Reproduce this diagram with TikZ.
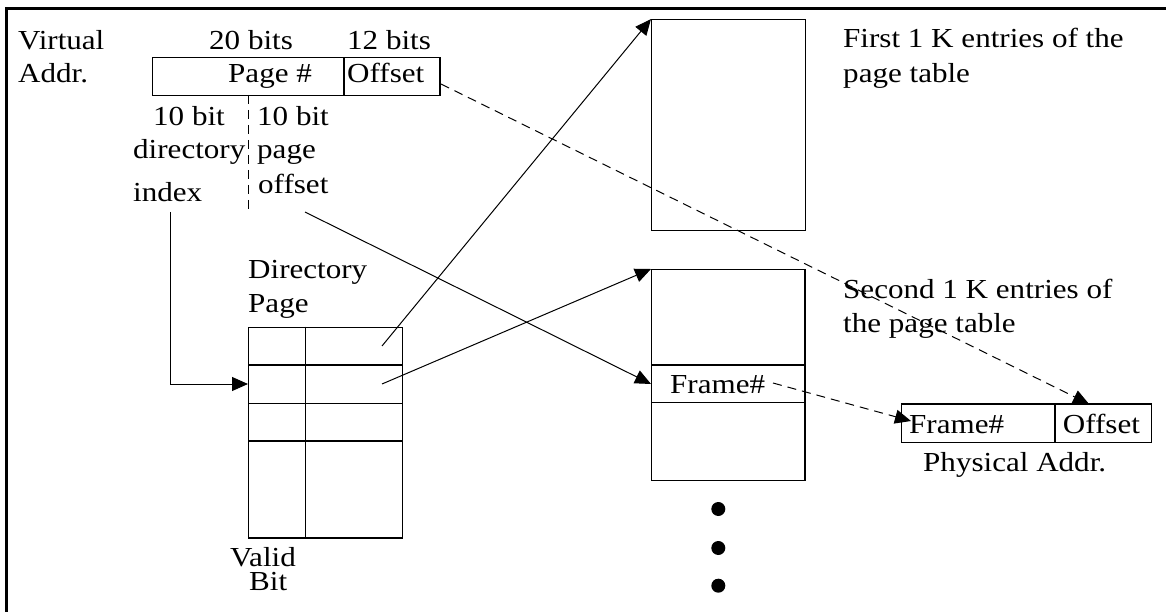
\documentclass[tikz,border=0pt]{standalone}
\usepackage{fontspec}
\setmainfont{Liberation Serif}[FakeStretch=1.13]
\usetikzlibrary{arrows.meta}

\begin{document}
\begin{tikzpicture}[x=1pt,y=-1pt,
  every node/.style={inner sep=0pt, font=\fontsize{27.5}{34}\selectfont},
  lbl/.style={anchor=base west},
  box/.style={draw, line width=1.2pt, anchor=north west, inner sep=0pt},
  cellline/.style={line width=1.2pt},
  link/.style={line width=1pt, -{Triangle[length=16pt,width=14pt]}},
  dlink/.style={link, dash pattern=on 9pt off 6pt},
  split/.style={line width=1pt, dash pattern=on 9pt off 6pt},
  dot/.style={circle, fill, minimum size=14pt},
  ]
\useasboundingbox (0,0) rectangle (1166,612);

% outer frame (top and left edges)
\draw[line width=3pt] (6.5,612) -- (6.5,8.3) -- (1166,8.3);

% ---- virtual address ----
\node[lbl] (virt) at (18,50) {Virtual};
\node[lbl] (addr) at (18,83) {Addr.};
\node[box, minimum width=191.6pt, minimum height=37.7pt] (pnum) at (151.7,57.3) {};
\node[box, minimum width=96pt, minimum height=37.7pt] (offs) at (343.3,57.3) {};
\node[lbl] (b20) at (209,50) {20 bits};
\node[lbl] (b12) at (347,50) {12 bits};
\node[lbl] (pgt) at (228,83) {Page \#};
\node[lbl] (oft) at (347,83) {Offset};

% split of the page number
\coordinate (sptop) at (248.3,95);
\coordinate (spbot) at (248.3,213);
\draw[split] (sptop) -- (spbot);
\node[lbl] (l10a) at (153,126) {10 bit};
\node[lbl] (ldir) at (133,159) {directory};
\node[lbl] (lidx) at (133,202) {index};
\node[lbl] (l10b) at (257,126) {10 bit};
\node[lbl] (lpg) at (257,159) {page};
\node[lbl] (lofs) at (258,194) {offset};

% ---- directory page ----
\node[lbl] (dirt1) at (248,278) {Directory};
\node[lbl] (dirt2) at (248,312.7) {Page};
\node[box, minimum width=154pt, minimum height=210.6pt] (dir) at (248,326.7) {};
\draw[cellline] (305.3,326.7) -- (305.3,537.3);
\draw[cellline] (248,365) -- (402,365);
\draw[cellline] (248,403.3) -- (402,403.3);
\draw[cellline] (248,441) -- (402,441);
\node[lbl] (validt) at (230,566) {Valid};
\node[lbl] (bitt) at (249,590) {Bit};

% ---- page tables ----
\node[box, minimum width=154pt, minimum height=211pt] (pt1) at (651,19) {};
\node[lbl] (ft1) at (843,48) {First 1 K entries of the};
\node[lbl] (ft2) at (843,83) {page table};

\node[box, minimum width=153.3pt, minimum height=211pt] (pt2) at (651,269) {};
\draw[cellline] (651,365) -- (804.3,365);
\draw[cellline] (651,402.7) -- (804.3,402.7);
\node[lbl] (fr2) at (670,393) {Frame\#};
\node[lbl] (st1) at (843,298) {Second 1 K entries of};
\node[lbl] (st2) at (843,332.7) {the page table};

\node[dot] (dot1) at (718.3,509) {};
\node[dot] (dot2) at (718.3,548) {};
\node[dot] (dot3) at (718.3,585.7) {};

% ---- physical address ----
\node[box, minimum width=153.6pt, minimum height=38.4pt] (pfr) at (900.7,403.3) {};
\node[box, minimum width=96.4pt, minimum height=38.4pt] (pof) at (1054.3,403.3) {};
\node[lbl] (pfrt) at (909,433) {Frame\#};
\node[lbl] (poft) at (1062.7,433) {Offset};
\node[lbl] (physt) at (923,471.7) {Physical Addr.};

% ---- connectors ----
\coordinate (d1) at (382,346);
\coordinate (d2) at (382,384);
\coordinate (dirin) at (248,384);
\coordinate (ixs) at (170.7,212);
\coordinate (pos) at (305,212);
\coordinate (frin) at (651,384);
\coordinate (oe) at (441,84);
\coordinate (ptip) at (1089,404);
\coordinate (fre) at (773,383);
\coordinate (pftip) at (911,421);

\draw[link] (ixs) |- (dirin);
\draw[link] (d1) -- (pt1.north west);
\draw[link] (d2) -- (pt2.north west);
\draw[link] (pos) -- (frin);
\draw[dlink] (oe) -- (ptip);
\draw[dlink] (fre) -- (pftip);
\end{tikzpicture}
\end{document}
